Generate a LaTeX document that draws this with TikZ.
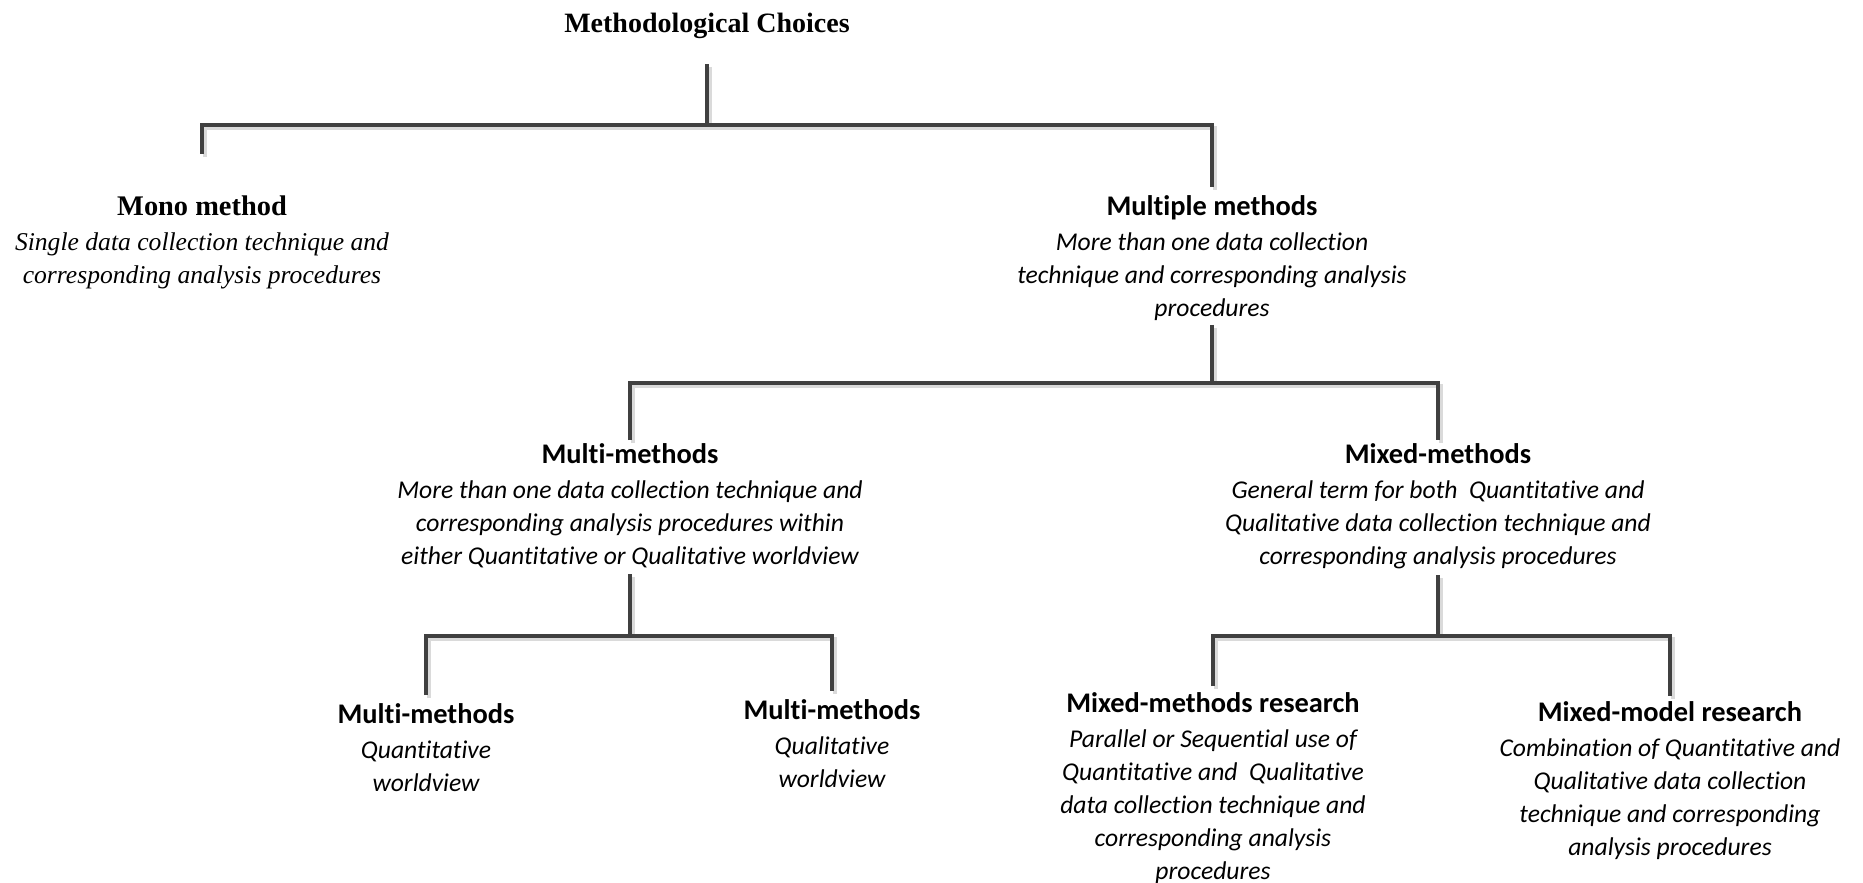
\documentclass[tikz,border=0pt]{standalone}
\usepackage{fontspec}
\setmainfont{Liberation Serif}
\newfontfamily\calibri[Ligatures=NoCommon]{Carlito}
\usetikzlibrary{calc}
\definecolor{linegray}{HTML}{404040}
\definecolor{shadowgray}{HTML}{DADADA}
\newcommand\headline[1]{{\bfseries\upshape\fontsize{14.2}{17}\selectfont #1}}
\tikzset{
  link/.style={draw=linegray, line width=2pt, line join=miter,
    preaction={draw=shadowgray, line width=2pt,
      transform canvas={shift={(1.5pt,-1.5pt)}}}},
  serifitem/.style={align=center, anchor=north, inner sep=0pt,
    font=\itshape\fontsize{12.8}{16.5}\selectfont},
  item/.style={align=center, anchor=north, inner sep=0pt,
    font=\calibri\itshape\fontsize{12.8}{16.5}\selectfont},
}
\begin{document}
\begin{tikzpicture}[x=0.5pt, y=-0.5pt]
\useasboundingbox (0,0) rectangle (1863,883);

% texts
\node[inner sep=0pt, font=\bfseries\fontsize{14}{17}\selectfont] (title) at (707,26) {Methodological Choices};

\node[serifitem] (mono) at (202,195)
  {\headline{Mono method}\\[1pt] Single data collection technique and\\ corresponding analysis procedures};

\node[item] (multiple) at (1212,195)
  {\headline{Multiple methods}\\[1pt] More than one data collection\\ technique and corresponding analysis\\ procedures};

\node[item] (multi) at (630,443)
  {\headline{Multi-methods}\\[1pt] More than one data collection technique and\\ corresponding analysis procedures within\\ either Quantitative or Qualitative worldview};

\node[item] (mixed) at (1438,443)
  {\headline{Mixed-methods}\\[1pt] General term for both\ \ Quantitative and\\ Qualitative data collection technique and\\ corresponding analysis procedures};

\node[item] (quant) at (426,703)
  {\headline{Multi-methods}\\[1pt] Quantitative\\ worldview};

\node[item] (qual) at (832,699)
  {\headline{Multi-methods}\\[1pt] Qualitative\\ worldview};

\node[item] (mmr) at (1213,692)
  {\headline{Mixed-methods research}\\[1pt] Parallel or Sequential use of\\ Quantitative and\ \ Qualitative\\ data collection technique and\\ corresponding analysis\\ procedures};

\node[item] (mmod) at (1670,701)
  {\headline{Mixed-model research}\\[1pt] Combination of Quantitative and\\ Qualitative data collection\\ technique and corresponding\\ analysis procedures};

% bar levels
\coordinate (bar1) at (707,125);
\coordinate (bar2) at (1212,383);
\coordinate (bar3) at (630,636);
\coordinate (bar4) at (1438,636);

% connectors
\draw[link] ($(title.south)+(0,25)$) -- (bar1);
\draw[link] ($(mono.north)+(0,-41)$) |- (bar1) -| ($(multiple.north)+(0,-8)$);

\draw[link] ($(multiple.south)+(0,4)$) -- (bar2);
\draw[link] ($(multi.north)+(0,-3)$) |- (bar2) -| ($(mixed.north)+(0,-3)$);

\draw[link] ($(multi.south)+(0,6)$) -- (bar3);
\draw[link] ($(quant.north)+(0,-8)$) |- (bar3) -| ($(qual.north)+(0,-8)$);

\draw[link] ($(mixed.south)+(0,6)$) -- (bar4);
\draw[link] ($(mmr.north)+(0,-6)$) |- (bar4) -| ($(mmod.north)+(0,-5)$);
\end{tikzpicture}
\end{document}
